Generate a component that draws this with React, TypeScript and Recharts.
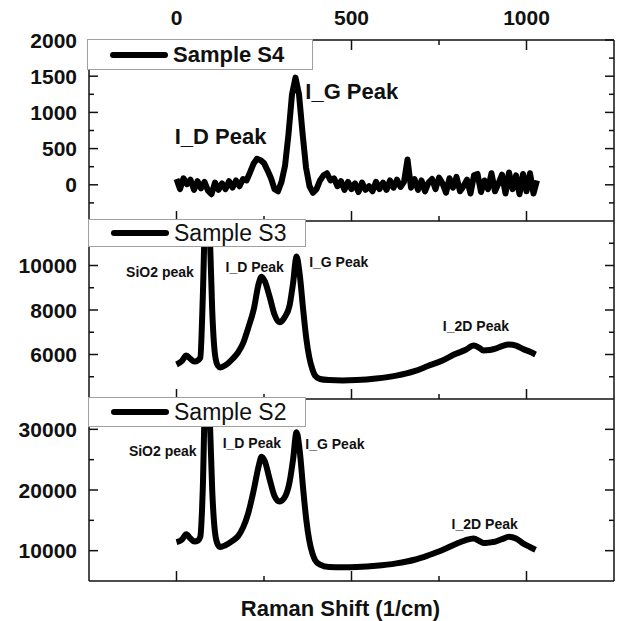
import { LineChart, Line, XAxis, YAxis, Legend, ReferenceDot } from 'recharts';

const FONT = '"Liberation Sans", Arial, Helvetica, sans-serif';
const INK = '#111';

// Sample S4 (noisy), one reading every 10 1/cm
const s4Shift = [
  0, 10, 20, 30, 40, 50, 60, 70, 80, 90,
  100, 110, 120, 130, 140, 150, 160, 170, 180, 190,
  200, 210, 220, 230, 240, 250, 260, 270, 280, 290,
  300, 310, 320, 330, 340, 350, 360, 370, 380, 390,
  400, 410, 420, 430, 440, 450, 460, 470, 480, 490,
  500, 510, 520, 530, 540, 550, 560, 570, 580, 590,
  600, 610, 620, 630, 640, 650, 660, 670, 680, 690,
  700, 710, 720, 730, 740, 750, 760, 770, 780, 790,
  800, 810, 820, 830, 840, 850, 860, 870, 880, 890,
  900, 910, 920, 930, 940, 950, 960, 970, 980, 990,
  1000, 1010, 1020, 1030,
];
const s4Intensity = [
  80, -60, 90, 10, 70, -70, 50, -50, 40, -80,
  -130, 30, -70, 20, -60, 50, -40, 60, -20, 80,
  60, 170, 290, 360, 340, 300, 200, 90, -60, -90,
  40, 260, 700, 1250, 1480, 1250, 720, 240, -20, -110,
  -60, 60, 130, 160, 60, 90, -20, 50, -70, 40,
  -60, 20, -100, 30, -70, -20, -90, 40, -60, 30,
  -70, 60, -40, 70, -30, 40, 350, -40, 80, -70,
  60, -90, 30, 80, -60, 100, 20, -110, 90, -40,
  110, -90, -20, 70, -120, 130, 150, -100, 60, -60,
  160, -90, 20, 140, -120, 170, -60, 130, -130, 150,
  -90, 160, -120, 60,
];

// Samples S3 and S2 share the same shift positions
const shift = [
  0, 15, 28, 40, 51, 62, 68, 75, 82, 88,
  95, 102, 110, 118, 125, 140, 160, 176, 190, 205,
  221, 235, 243, 252, 266, 280, 294, 308, 323, 333,
  343, 352, 362, 371, 379, 388, 396, 410, 436, 475,
  515, 570, 628, 680, 718, 760, 798, 825, 849, 865,
  877, 895, 911, 930, 950, 970, 990, 1010, 1026,
];
const s3Intensity = [
  5550, 5700, 5950, 5800, 5680, 5750, 5850, 8500, 12500, 13500,
  11500, 8000, 6000, 5500, 5420, 5520, 5800, 6100, 6500, 7200,
  8050, 9200, 9500, 9300, 8600, 7800, 7450, 7650, 8200, 9200,
  10400, 9600, 8000, 6700, 5900, 5350, 5050, 4900, 4850, 4830,
  4850, 4920, 5050, 5250, 5480, 5730, 6030, 6200, 6400, 6300,
  6180, 6200, 6260, 6380, 6450, 6400, 6250, 6120, 6000,
];
const s2Intensity = [
  11400, 11800, 12700, 12000, 11500, 11700, 12300, 20000, 36000, 38000,
  32000, 20000, 13000, 11000, 10600, 10900, 11600, 12400, 13800, 16200,
  20100, 24000, 25500, 24800, 21800, 19000, 18100, 18700, 21300, 25000,
  29500, 26500, 20100, 15000, 11800, 9600, 8450, 7700, 7300, 7250,
  7300, 7500, 7900, 8500, 9200, 10100, 11100, 11700, 12000, 11600,
  11250, 11350, 11500, 11900, 12300, 12000, 11200, 10600, 10150,
];

const xMajorTicks = [0, 500, 1000];
const xMinorTicks = [250, 750];

const s4YMajor = [0, 500, 1000, 1500, 2000];
const s4YMinor = [-250, 250, 750, 1250, 1750];
const s3YMajor = [6000, 8000, 10000];
const s3YMinor = [5000, 7000, 9000, 11000];
const s2YMajor = [10000, 20000, 30000];
const s2YMinor = [15000, 25000];

type Note = { text: string; x: number; y: number };

const s4Notes: Note[] = [
  { text: 'I_D Peak', x: -5, y: 670 },
  { text: 'I_G Peak', x: 368, y: 1290 },
];
const s3Notes: Note[] = [
  { text: 'SiO2 peak', x: -144, y: 9720 },
  { text: 'I_D Peak', x: 140, y: 9940 },
  { text: 'I_G Peak', x: 379, y: 10160 },
  { text: 'I_2D Peak', x: 761, y: 7280 },
];
const s2Notes: Note[] = [
  { text: 'SiO2 peak', x: -136, y: 26450 },
  { text: 'I_D Peak', x: 132, y: 27780 },
  { text: 'I_G Peak', x: 368, y: 27620 },
  { text: 'I_2D Peak', x: 786, y: 14450 },
];

const XTick = ({ x, y, payload, edge, showLabel }: any) => {
  const major = xMajorTicks.includes(payload.value);
  const len = major ? 10 : 5;
  const dir = edge === 'top' ? 1 : -1;
  return (
    <g>
      <line x1={x} x2={x} y1={y} y2={y + dir * len} stroke={INK} strokeWidth={1.5} />
      {showLabel && major && (
        <text x={x} y={y - 15} textAnchor="middle" fontFamily={FONT} fontWeight="bold" fontSize={21} fill={INK}>
          {payload.value}
        </text>
      )}
    </g>
  );
};

const YTick = ({ x, y, payload, side, major }: any) => {
  const isMajor = major.includes(payload.value);
  const len = isMajor ? 9 : 5;
  const dir = side === 'left' ? 1 : -1;
  return (
    <g>
      <line x1={x} x2={x + dir * len} y1={y} y2={y} stroke={INK} strokeWidth={1.5} />
      {side === 'left' && isMajor && (
        <text x={x - 12} y={y} dy="0.36em" textAnchor="end" fontFamily={FONT} fontWeight="bold" fontSize={21} fill={INK}>
          {payload.value}
        </text>
      )}
    </g>
  );
};

type PanelProps = {
  name: string;
  xs: number[];
  ys: number[];
  domain: [number, number];
  major: number[];
  minor: number[];
  top: number;
  bottom: number;
  legend: { left: number; top: number; width: number; height: number; bold: boolean; size: number };
  notes: Note[];
  noteSize: number;
  curve: 'linear' | 'monotone';
  topAxis?: boolean;
  title?: boolean;
};

const Panel = (p: PanelProps) => {
  const data = p.xs.map((x, i) => ({ x, y: p.ys[i] }));
  const lg = p.legend;
  // axes are 1px thick, so margins are one px short of the frame
  const margin = { top: p.topAxis ? p.top - 1 : p.top, right: 6, bottom: p.bottom - 1, left: 88 };
  return (
    <div style={{ position: 'absolute', left: 0, top: 0 }}>
      <LineChart width={621} height={621} data={data} margin={margin}>
        <XAxis
          dataKey="x"
          type="number"
          domain={[-250, 1250]}
          allowDataOverflow
          ticks={[...xMajorTicks, ...xMinorTicks]}
          interval={0}
          height={1}
          tickSize={0}
          tickMargin={0}
          tickLine={false}
          axisLine={{ stroke: INK, strokeWidth: 1.5 }}
          tick={(props: any) => <XTick {...props} edge="bottom" />}
          label={
            p.title
              ? (props: any) => (
                  <text
                    x={props.viewBox.x + props.viewBox.width / 2 - 11}
                    y={props.viewBox.y + 35}
                    textAnchor="middle"
                    fontFamily={FONT}
                    fontWeight="bold"
                    fontSize={22}
                    fill={INK}
                  >
                    Raman Shift (1/cm)
                  </text>
                )
              : undefined
          }
        />
        {p.topAxis && (
          <XAxis
            xAxisId="top"
            orientation="top"
            dataKey="x"
            type="number"
            domain={[-250, 1250]}
            allowDataOverflow
            ticks={[...xMajorTicks, ...xMinorTicks]}
            interval={0}
            height={1}
            tickSize={0}
            tickMargin={0}
            tickLine={false}
            axisLine={{ stroke: INK, strokeWidth: 1.5 }}
            tick={(props: any) => <XTick {...props} edge="top" showLabel />}
          />
        )}
        <YAxis
          type="number"
          domain={p.domain}
          allowDataOverflow
          ticks={[...p.major, ...p.minor]}
          interval={0}
          width={1}
          tickSize={0}
          tickMargin={0}
          tickLine={false}
          axisLine={{ stroke: INK, strokeWidth: 1.5 }}
          tick={(props: any) => <YTick {...props} side="left" major={p.major} />}
        />
        <YAxis
          yAxisId="right"
          orientation="right"
          type="number"
          domain={p.domain}
          allowDataOverflow
          ticks={[...p.major, ...p.minor]}
          interval={0}
          width={1}
          tickSize={0}
          tickMargin={0}
          tickLine={false}
          axisLine={{ stroke: INK, strokeWidth: 1.5 }}
          tick={(props: any) => <YTick {...props} side="right" major={p.major} />}
        />
        {/* invisible copy so the top and right axes get their scale */}
        <Line
          xAxisId={p.topAxis ? 'top' : 0}
          yAxisId="right"
          dataKey="y"
          stroke="none"
          dot={false}
          activeDot={false}
          legendType="none"
          isAnimationActive={false}
        />
        <Line
          type={p.curve}
          dataKey="y"
          name={p.name}
          stroke="#000"
          strokeWidth={6}
          strokeLinejoin="round"
          dot={false}
          isAnimationActive={false}
        />
        {p.notes.map((n) => (
          <ReferenceDot
            key={n.text}
            x={n.x}
            y={n.y}
            r={0}
            fill="none"
            stroke="none"
            label={(props: any) => (
              <text
                x={props.viewBox.x}
                y={props.viewBox.y}
                dy="0.36em"
                fontFamily={FONT}
                fontWeight="bold"
                fontSize={p.noteSize}
                fill={INK}
              >
                {n.text}
              </text>
            )}
          />
        ))}
        <Legend
          layout="horizontal"
          align="center"
          verticalAlign="middle"
          wrapperStyle={{ left: lg.left, top: lg.top, width: lg.width, height: lg.height }}
          content={() => (
            <div
              style={{
                position: 'relative',
                width: lg.width,
                height: lg.height,
                boxSizing: 'border-box',
                border: '1px solid #a0a0a0',
                background: '#fff',
                fontFamily: FONT,
              }}
            >
              <div
                style={{
                  position: 'absolute',
                  left: 22,
                  top: '50%',
                  marginTop: -3,
                  width: 58,
                  height: 6,
                  borderRadius: 3,
                  background: '#000',
                }}
              />
              <span
                style={{
                  position: 'absolute',
                  left: 85,
                  top: 0,
                  lineHeight: `${lg.height - 2}px`,
                  fontSize: lg.size,
                  fontWeight: lg.bold ? 'bold' : 'normal',
                  color: INK,
                  whiteSpace: 'nowrap',
                }}
              >
                {p.name}
              </span>
            </div>
          )}
        />
      </LineChart>
    </div>
  );
};

export default function App() {
  return (
    <div style={{ position: 'absolute', left: 0, top: 0, width: 621, height: 621, background: '#fff' }}>
      <Panel
        name="Sample S4"
        xs={s4Shift}
        ys={s4Intensity}
        domain={[-500, 2000]}
        major={s4YMajor}
        minor={s4YMinor}
        top={40}
        bottom={400}
        legend={{ left: 87, top: 39, width: 226, height: 31, bold: true, size: 22 }}
        notes={s4Notes}
        noteSize={22}
        curve="linear"
        topAxis
      />
      <Panel
        name="Sample S3"
        xs={shift}
        ys={s3Intensity}
        domain={[4000, 12000]}
        major={s3YMajor}
        minor={s3YMinor}
        top={221}
        bottom={222}
        legend={{ left: 88, top: 219, width: 218, height: 28, bold: false, size: 23 }}
        notes={s3Notes}
        noteSize={14}
        curve="monotone"
      />
      <Panel
        name="Sample S2"
        xs={shift}
        ys={s2Intensity}
        domain={[5000, 35000]}
        major={s2YMajor}
        minor={s2YMinor}
        top={399}
        bottom={40}
        legend={{ left: 88, top: 397, width: 218, height: 30, bold: false, size: 23 }}
        notes={s2Notes}
        noteSize={14}
        curve="monotone"
        title
      />
    </div>
  );
}
